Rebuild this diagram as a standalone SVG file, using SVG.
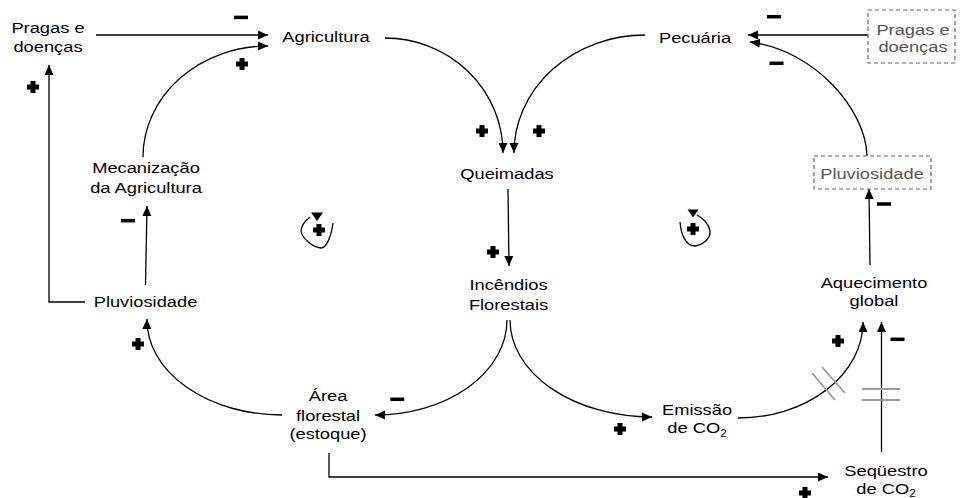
<svg xmlns="http://www.w3.org/2000/svg" xmlns:xlink="http://www.w3.org/1999/xlink" width="960" height="498" viewBox="0 0 960 498">
  <style>
    .t { font-family: "Liberation Sans", Arial, sans-serif; font-size: 15.5px; fill: #000; text-anchor: middle; }
    .g { fill: #555; }
    .sub { font-size: 10px; }
    .c { fill: none; stroke: #000; stroke-width: 1.3; }
    .arr { marker-end: url(#ah); }
    .box { fill: none; stroke: #666; stroke-width: 1.2; stroke-dasharray: 4 3; }
    .delay { stroke: #9a9a9a; stroke-width: 1.8; fill: none; }
    .loop { fill: none; stroke: #000; stroke-width: 1.3; }
  </style>
  <defs>
    <marker id="ah" markerUnits="userSpaceOnUse" markerWidth="11" markerHeight="10" refX="10" refY="4.5" orient="auto">
      <path d="M0,0 L10,4.5 L0,9 z" fill="#000"/>
    </marker>
    <path id="plus" d="M-2.5,-6 h5 v3.5 h3.5 v5 h-3.5 v3.5 h-5 v-3.5 h-3.5 v-5 h3.5 z" fill="#000"/>
    <rect id="minus" x="-7" y="-1.75" width="14" height="3.5" fill="#000"/>
  </defs>

  <rect width="960" height="498" fill="#fff"/>

  <!-- connectors -->
  <g id="connectors">
    <path class="c arr" d="M96,35 H268"/>
    <path class="c arr" d="M143,157 A125,111 0 0 1 268,46"/>
    <path class="c arr" d="M385,38 A118,115 0 0 1 503,153"/>
    <path class="c arr" d="M645,35 A131,118 0 0 0 514,153"/>
    <path class="c arr" d="M868,35 H748"/>
    <path class="c arr" d="M867,156 C866,110 815,50 750,42"/>
    <path class="c arr" d="M508,189 L509,266"/>
    <path class="c arr" d="M870,265 L869,189"/>
    <path class="c arr" d="M145.5,285 L147,206"/>
    <path class="c arr" d="M85,302 H49 V65"/>
    <path class="c arr" d="M507,320 A132,95 0 0 1 375,415"/>
    <path class="c arr" d="M510,320 A142,97 0 0 0 652,417"/>
    <path class="c arr" d="M282,415 A135,95 0 0 1 147,319"/>
    <path class="c arr" d="M738,418 A125,96 0 0 0 863,322"/>
    <path class="c arr" d="M881.5,452 V322"/>
    <path class="c arr" d="M329,453 V477 H828"/>
    <!-- delay marks -->
    <path class="delay" d="M812,373 L835,400 M822,367 L845,393"/>
    <path class="delay" d="M862,389 H900 M862,400 H900"/>
  </g>

  <!-- polarity signs -->
  <g id="polarity">
    <use xlink:href="#plus" x="242" y="64"/>
    <use xlink:href="#plus" x="33" y="87"/>
    <use xlink:href="#plus" x="482" y="131"/>
    <use xlink:href="#plus" x="539" y="131"/>
    <use xlink:href="#plus" x="493" y="252"/>
    <use xlink:href="#plus" x="138" y="344"/>
    <use xlink:href="#plus" x="620" y="429"/>
    <use xlink:href="#plus" x="838" y="341"/>
    <use xlink:href="#plus" x="805" y="493"/>
    <use xlink:href="#minus" x="241" y="17.4"/>
    <use xlink:href="#minus" x="774" y="16.7"/>
    <use xlink:href="#minus" x="776.5" y="63.3"/>
    <use xlink:href="#minus" x="128" y="220.7"/>
    <use xlink:href="#minus" x="884" y="204"/>
    <use xlink:href="#minus" x="897.5" y="339.3"/>
    <use xlink:href="#minus" x="397.3" y="399.3"/>
  </g>

  <!-- loop markers -->
  <g id="loop-left">
    <path class="loop" d="M333,223 C331,238 326,248 321,248 C312,247 302,238 301,231 C301,226 305,221 310,217"/>
    <polygon points="311,212.5 323,212.5 317,221" fill="#000"/>
    <use xlink:href="#plus" x="319" y="230"/>
  </g>
  <g id="loop-right">
    <path class="loop" d="M680,222 C681,235 686,246 695,246 C703,245 711,238 710,231 C709,224 703,218 697,215"/>
    <polygon points="687.5,209.5 698.5,209.5 693,217.5" fill="#000"/>
    <use xlink:href="#plus" x="693" y="229"/>
  </g>

  <!-- nodes -->
  <g id="pragas-doencas">
    <text class="t" transform="translate(48 0) scale(1.18 1)" y="33">Pragas e</text>
    <text class="t" transform="translate(48 0) scale(1.18 1)" y="52">doenças</text>
  </g>
  <g id="agricultura">
    <text class="t" transform="translate(326 0) scale(1.18 1)" y="42">Agricultura</text>
  </g>
  <g id="pecuaria">
    <text class="t" transform="translate(695 0) scale(1.18 1)" y="43">Pecuária</text>
  </g>
  <g id="pragas-doencas-externo">
    <rect class="box" x="868" y="10" width="87" height="53"/>
    <text class="t g" transform="translate(913 0) scale(1.18 1)" y="35">Pragas e</text>
    <text class="t g" transform="translate(913 0) scale(1.18 1)" y="52">doenças</text>
  </g>
  <g id="queimadas">
    <text class="t" transform="translate(507 0) scale(1.18 1)" y="179">Queimadas</text>
  </g>
  <g id="mecanizacao">
    <text class="t" transform="translate(146 0) scale(1.18 1)" y="173">Mecanização</text>
    <text class="t" transform="translate(146 0) scale(1.18 1)" y="193.5">da Agricultura</text>
  </g>
  <g id="pluviosidade-externa">
    <rect class="box" x="814" y="156" width="117" height="33"/>
    <text class="t g" transform="translate(872 0) scale(1.18 1)" y="179">Pluviosidade</text>
  </g>
  <g id="incendios-florestais">
    <text class="t" transform="translate(508.5 0) scale(1.18 1)" y="290.5">Incêndios</text>
    <text class="t" transform="translate(508.5 0) scale(1.18 1)" y="310">Florestais</text>
  </g>
  <g id="pluviosidade">
    <text class="t" transform="translate(145.5 0) scale(1.18 1)" y="307.5">Pluviosidade</text>
  </g>
  <g id="aquecimento-global">
    <text class="t" transform="translate(874 0) scale(1.18 1)" y="288">Aquecimento</text>
    <text class="t" transform="translate(874 0) scale(1.18 1)" y="306">global</text>
  </g>
  <g id="area-florestal">
    <text class="t" transform="translate(328 0) scale(1.18 1)" y="401.5">Área</text>
    <text class="t" transform="translate(328 0) scale(1.18 1)" y="421">florestal</text>
    <text class="t" transform="translate(328 0) scale(1.18 1)" y="439">(estoque)</text>
  </g>
  <g id="emissao-co2">
    <text class="t" transform="translate(697 0) scale(1.18 1)" y="415">Emissão</text>
    <text class="t" transform="translate(697 0) scale(1.18 1)" y="433">de CO<tspan class="sub" dy="4">2</tspan></text>
  </g>
  <g id="sequestro-co2">
    <text class="t" transform="translate(886 0) scale(1.18 1)" y="476.5">Seqüestro</text>
    <text class="t" transform="translate(886 0) scale(1.18 1)" y="494">de CO<tspan class="sub" dy="3">2</tspan></text>
  </g>
</svg>
